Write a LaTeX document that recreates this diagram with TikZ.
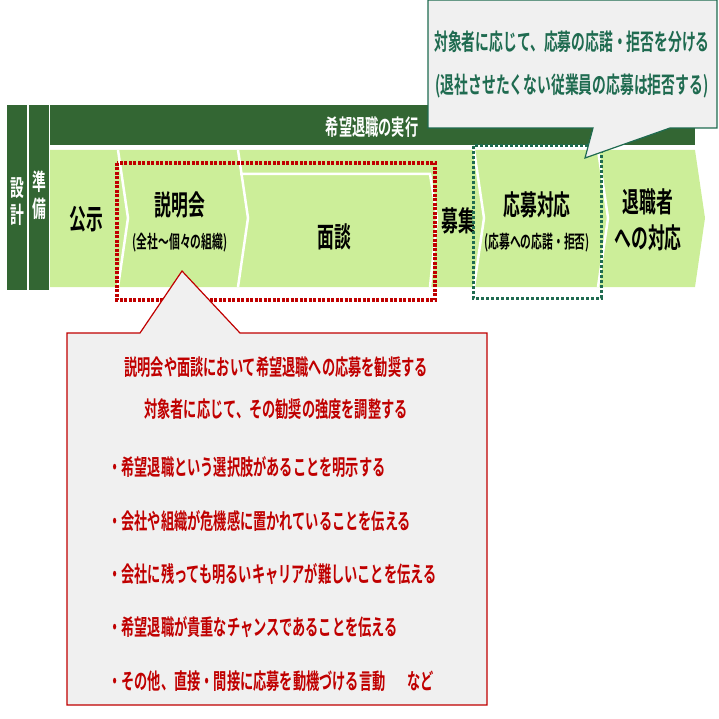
\documentclass[tikz,border=0pt]{standalone}
\usepackage{fontspec}
\newfontfamily\jp[FakeStretch=0.6,UprightFont={* Bold}]{Noto Sans CJK JP}
\definecolor{dg}{HTML}{336633}
\definecolor{lg}{HTML}{CCEE99}
\definecolor{dr}{HTML}{C00000}
\definecolor{tg}{HTML}{1F6B50}
\definecolor{cg}{HTML}{F0F0F0}
\begin{document}
\begin{tikzpicture}[x=1pt,y=-1pt,
  lbl/.style={font=\jp\fontsize{28}{30}\selectfont,align=center,inner sep=0},
  sub/.style={font=\jp\fontsize{18}{20}\selectfont,inner sep=0},
  sep/.style={draw=white,line width=2.5pt},
  vt/.style={font=\jp\fontsize{23}{27}\selectfont,text=white,align=center,inner sep=0}]
\useasboundingbox (0,0) rectangle (719,719);
% bars
\fill[dg] (7,105) rectangle (27,290);
\fill[dg] (29,105) rectangle (49,290);
\fill[dg] (50,105) rectangle (695,145);
\node[vt] (sk) at (17,202) {設\\計};
\node[vt] (jb) at (39,195) {準\\備};
\node[font=\jp\fontsize{22}{24}\selectfont,text=white,inner sep=0] (jk) at (372,127) {希望退職の実行};
% band
\fill[lg] (50,150) -- (695,150) -- (705,218) -- (695,287) -- (50,287) -- cycle;
\draw[sep] (118,150) -- (128,218) -- (118,287);
\draw[sep] (238,150) -- (248,218) -- (238,287);
\draw[sep] (240,174) -- (430,174) -- (437,218) -- (430,287);
\draw[sep] (474,150) -- (484,218) -- (474,287);
\draw[sep] (598,150) -- (608,218) -- (598,287);
\node[lbl] (ks) at (86,219) {公示};
\node[lbl] (sm) at (180,205) {説明会};
\node[sub] (sms) at (180,243) {(全社～個々の組織)};
\node[lbl] (md) at (334,237) {面談};
\node[lbl] (bs) at (458,221) {募集};
\node[lbl] (ot) at (537,205) {応募対応};
\node[sub] (ots) at (537,243) {(応募への応諾・拒否)};
\node[lbl] (tk) at (648,220) {退職者\\[6pt]への対応};
% dotted frames
\draw[dr,line width=3.5pt,dash pattern=on 3pt off 1.5pt] (117,163) rectangle (435,300);
\draw[tg,line width=3pt,dash pattern=on 3pt off 2pt] (473,146) rectangle (601,298);
% top callout
\draw[tg,fill=cg,line width=1.2pt] (428,0) -- (717,0) -- (717,128) -- (670,128) -- (585,158) -- (593,128) -- (428,128) -- cycle;
\node[font=\jp\fontsize{23}{25}\selectfont,text=tg,inner sep=0] (c1) at (572,42) {対象者に応じて、応募の応諾・拒否を分ける};
\node[font=\jp\fontsize{23}{25}\selectfont,text=tg,inner sep=0] (c2) at (572,86) {(退社させたくない従業員の応募は拒否する)};
% bottom callout
\draw[dr,fill=cg,line width=1.2pt] (67,333) -- (140,333) -- (182,271) -- (240,333) -- (487,333) -- (487,705) -- (67,705) -- cycle;
\begin{scope}[every node/.style={font=\jp\fontsize{22}{24}\selectfont,text=dr,inner sep=0}]
\node (b1) at (276,367) {説明会や面談において希望退職への応募を勧奨する};
\node (b2) at (276,409) {対象者に応じて、その勧奨の強度を調整する};
\node[anchor=west] (p1) at (108,467) {・希望退職という選択肢があることを明示する};
\node[anchor=west] (p2) at (108,521) {・会社や組織が危機感に置かれていることを伝える};
\node[anchor=west] (p3) at (108,574) {・会社に残っても明るいキャリアが難しいことを伝える};
\node[anchor=west] (p4) at (108,627) {・希望退職が貴重なチャンスであることを伝える};
\node[anchor=west] (p5) at (108,681) {・その他、直接・間接に応募を動機づける言動\quad など};
\end{scope}
\end{tikzpicture}
\end{document}
